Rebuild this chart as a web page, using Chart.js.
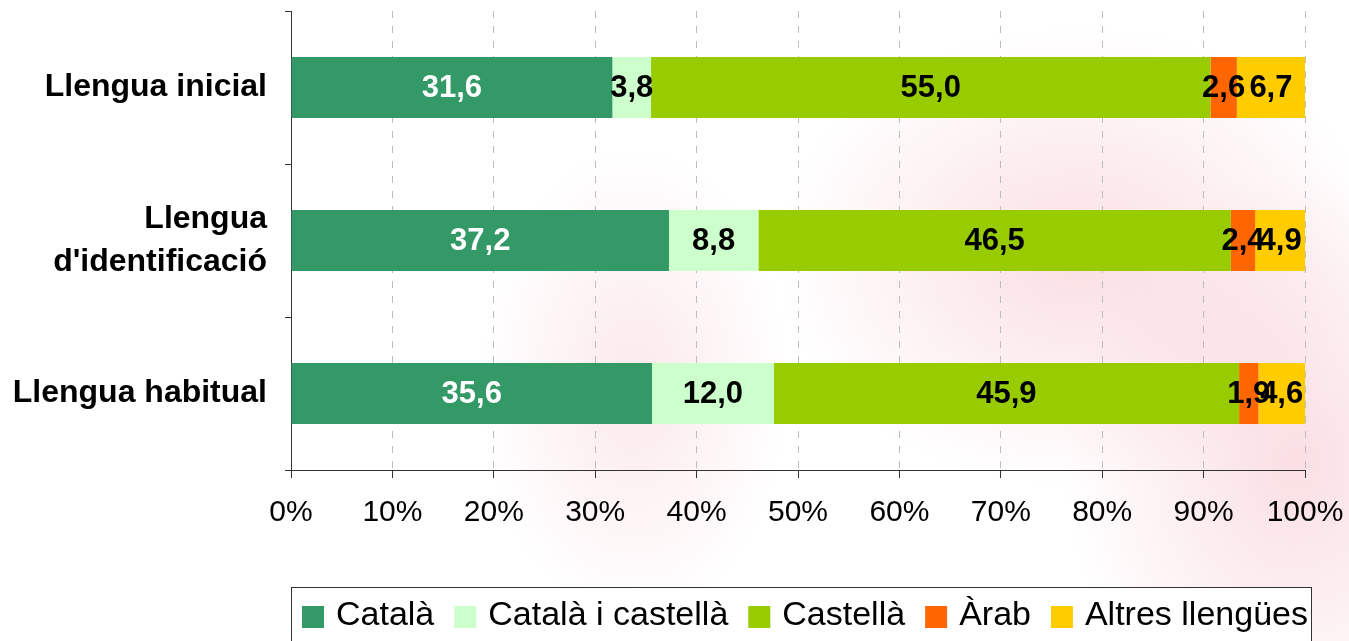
<!DOCTYPE html>
<html>
<head>
<meta charset="utf-8">
<title>Llengua inicial, d'identificació i habitual</title>
<script src="https://cdn.jsdelivr.net/npm/chart.js@4/dist/chart.umd.min.js"></script>
<style>
  html, body { margin: 0; padding: 0; }
  body {
    width: 1349px;
    height: 641px;
    overflow: hidden;
    background:
      radial-gradient(ellipse 420px 320px at 80% 40%, rgba(240, 160, 172, 0.34), rgba(255, 255, 255, 0) 72%),
      radial-gradient(ellipse 320px 400px at 96% 72%, rgba(240, 160, 172, 0.34), rgba(255, 255, 255, 0) 72%),
      radial-gradient(ellipse 220px 340px at 47% 60%, rgba(240, 160, 172, 0.24), rgba(255, 255, 255, 0) 70%),
      #ffffff;
  }
  #wrap { position: relative; width: 1349px; height: 641px; }
</style>
</head>
<body>
<div id="wrap"><canvas id="chart" width="1349" height="641"></canvas></div>
<script>
// Categories (rows) and the five series, values in %
var categories = ["Llengua inicial", ["Llengua", "d'identificació"], "Llengua habitual"];
var seriesNames = ["Català", "Català i castellà", "Castellà", "Àrab", "Altres llengües"];
var catala = [31.6, 37.2, 35.6];
var catalaCastella = [3.8, 8.8, 12.0];
var castella = [55.0, 46.5, 45.9];
var arab = [2.6, 2.4, 1.9];
var altres = [6.7, 4.9, 4.6];

var seriesColors = ["#339966", "#CCFFCC", "#99CC00", "#FF6600", "#FFCC00"];
var labelColors = ["#FFFFFF", "#000000", "#000000", "#000000", "#000000"];

var FONT = "'Liberation Sans', Arial, Helvetica, sans-serif";
var rawSeries = [catala, catalaCastella, castella, arab, altres];

// 100% stacked: each row is scaled to its own total
var totals = categories.map(function (c, j) {
  return rawSeries.reduce(function (s, arr) { return s + arr[j]; }, 0);
});

var datasets = rawSeries.map(function (arr, i) {
  return {
    label: seriesNames[i],
    data: arr.map(function (v, j) { return v / totals[j] * 100; }),
    backgroundColor: seriesColors[i],
    borderWidth: 0,
    categoryPercentage: 1.0,
    barPercentage: 0.4
  };
});

function fmt(v) {
  return v.toFixed(1).replace(".", ",");
}

// values written in the middle of each segment
var barLabels = {
  id: "barLabels",
  afterDatasetsDraw: function (chart) {
    var ctx = chart.ctx;
    ctx.save();
    ctx.font = "bold 31px " + FONT;
    ctx.textAlign = "center";
    ctx.textBaseline = "middle";
    chart.data.datasets.forEach(function (ds, i) {
      var meta = chart.getDatasetMeta(i);
      meta.data.forEach(function (bar, j) {
        ctx.fillStyle = labelColors[i];
        ctx.fillText(fmt(rawSeries[i][j]), (bar.x + bar.base) / 2, bar.y + 1);
      });
    });
    ctx.restore();
  }
};

// boxed legend under the chart, starting at the plot's left edge
var boxLegend = {
  id: "boxLegend",
  afterDraw: function (chart) {
    var ctx = chart.ctx;
    var left = chart.chartArea.left;
    var top = 587;
    var right = 1311;
    ctx.save();
    ctx.fillStyle = "#ffffff";
    ctx.fillRect(left, top, right - left, 60);
    ctx.strokeStyle = "#333333";
    ctx.lineWidth = 1;
    ctx.strokeRect(left + 0.5, top + 0.5, right - left, 70);
    ctx.font = "34px " + FONT;
    ctx.textBaseline = "middle";
    ctx.textAlign = "left";
    var x = left + 11;
    chart.data.datasets.forEach(function (ds) {
      ctx.fillStyle = ds.backgroundColor;
      ctx.fillRect(x, 606, 22, 22);
      x += 22 + 12;
      ctx.fillStyle = "#000000";
      ctx.fillText(ds.label, x, 616);
      x += ctx.measureText(ds.label).width + 20;
    });
    ctx.restore();
  }
};

new Chart(document.getElementById("chart"), {
  type: "bar",
  data: { labels: categories, datasets: datasets },
  options: {
    indexAxis: "y",
    responsive: false,
    animation: false,
    layout: { padding: { top: 11, right: 44, bottom: 0, left: 0 } },
    plugins: {
      legend: { display: false },
      tooltip: { enabled: false }
    },
    scales: {
      x: {
        stacked: true,
        min: 0,
        max: 100,
        afterFit: function (scale) {
          scale.height = 171;
          scale.paddingLeft = 0;
          scale.paddingRight = 0;
        },
        ticks: {
          stepSize: 10,
          padding: 17,
          color: "#000000",
          font: { family: FONT, size: 30 },
          callback: function (v) { return v + "%"; }
        },
        grid: {
          color: function (c) { return c.tick && c.tick.value === 0 ? "rgba(0,0,0,0)" : "#bdbdbd"; },
          lineWidth: 1,
          drawTicks: true,
          tickLength: 8,
          tickColor: "#333333",
          tickBorderDash: []
        },
        border: { display: true, color: "#333333", width: 1, dash: [7, 8] }
      },
      y: {
        stacked: true,
        afterFit: function (scale) {
          scale.width = 291;
          scale.paddingTop = 0;
          scale.paddingBottom = 0;
        },
        ticks: {
          padding: 18,
          color: "#000000",
          font: { family: FONT, size: 32, weight: "bold", lineHeight: 1.35 }
        },
        grid: {
          offset: true,
          drawOnChartArea: false,
          drawTicks: true,
          tickLength: 6,
          tickColor: "#333333"
        },
        border: { display: true, color: "#333333", width: 1 }
      }
    }
  },
  plugins: [barLabels, boxLegend]
});
</script>
</body>
</html>
